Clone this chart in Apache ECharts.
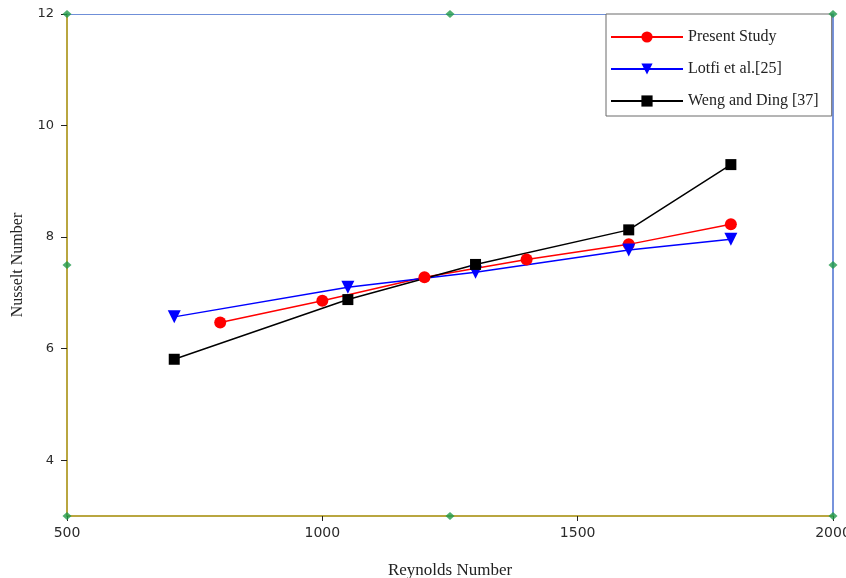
<!DOCTYPE html>
<html>
<head>
<meta charset="utf-8">
<script src="https://cdn.jsdelivr.net/npm/echarts@6/dist/echarts.min.js"></script>
<style>
html,body{margin:0;padding:0;background:#fff;}
#chart{width:846px;height:578px;}
</style>
</head>
<body>
<div id="chart"></div>
<script>
var presentRe = [800, 1000, 1200, 1400, 1600, 1800];
var presentNu = [6.47, 6.86, 7.28, 7.60, 7.87, 8.23];
var lotfiRe = [710, 1050, 1300, 1600, 1800];
var lotfiNu = [6.57, 7.10, 7.37, 7.77, 7.96];
var wengRe = [710, 1050, 1300, 1600, 1800];
var wengNu = [5.81, 6.88, 7.51, 8.13, 9.30];
var yTicks = [4, 6, 8, 10, 12];
var handleRe = [500, 1250, 2000, 500, 2000, 500, 1250, 2000];
var handleNu = [12, 12, 12, 7.5, 7.5, 3, 3, 3];

function pairs(xs, ys) { return xs.map(function (x, i) { return [x, ys[i]]; }); }

var chart = echarts.init(document.getElementById('chart'));
chart.setOption({
  animation: false,
  backgroundColor: '#ffffff',
  grid: { left: 67, right: 13, top: 14, bottom: 62, containLabel: false, outerBoundsMode: 'none' },
  legend: {
    data: ['Present Study', 'Lotfi et al.[25]', 'Weng and Ding [37]'],
    orient: 'vertical',
    left: 606, top: 14,
    backgroundColor: '#ffffff',
    borderColor: '#6a6a6a', borderWidth: 1,
    padding: [15, 13, 7, 4],
    itemWidth: 72, itemHeight: 14, itemGap: 16,
    textStyle: { fontFamily: 'Liberation Serif', fontSize: 16, color: '#222' }
  },
  xAxis: [{
    type: 'value', min: 500, max: 2000, interval: 500,
    name: 'Reynolds Number', nameLocation: 'middle', nameGap: 46,
    nameTextStyle: { fontFamily: 'Liberation Serif', fontSize: 17, color: '#222' },
    axisLine: { show: true, lineStyle: { color: '#b9a640', width: 2 } },
    axisTick: { show: true, inside: false, length: 5, lineStyle: { color: '#222' } },
    axisLabel: { fontFamily: 'DejaVu Sans', fontSize: 14, color: '#2a2a2a', margin: 10,
      formatter: function (v) { return String(v); } },
    splitLine: { show: false }
  }, {
    type: 'value', position: 'top', min: 500, max: 2000,
    axisLine: { show: true, lineStyle: { color: '#6f8fd8', width: 1 } },
    axisTick: { show: false }, axisLabel: { show: false }, splitLine: { show: false }
  }],
  yAxis: [{
    type: 'value', min: 3, max: 12,
    name: 'Nusselt Number', nameLocation: 'middle', nameGap: 41,
    nameTextStyle: { fontFamily: 'Liberation Serif', fontSize: 16, color: '#222' },
    axisLine: { show: true, lineStyle: { color: '#b9a640', width: 2 } },
    axisTick: { show: true, inside: false, length: 6, customValues: yTicks, lineStyle: { color: '#222' } },
    axisLabel: { fontFamily: 'DejaVu Sans', fontSize: 13, color: '#2a2a2a', margin: 13, customValues: yTicks },
    splitLine: { show: false }
  }, {
    type: 'value', position: 'right', min: 3, max: 12,
    axisLine: { show: true, lineStyle: { color: '#4a6fd0', width: 1.5 } },
    axisTick: { show: false }, axisLabel: { show: false }, splitLine: { show: false }
  }],
  series: [{
    name: 'Present Study', type: 'line', data: pairs(presentRe, presentNu),
    symbol: 'circle', symbolSize: 12,
    lineStyle: { color: '#ff0000', width: 1.5 },
    itemStyle: { color: '#ff0000' }
  }, {
    name: 'Lotfi et al.[25]', type: 'line', data: pairs(lotfiRe, lotfiNu),
    symbol: 'triangle', symbolSize: 13, symbolRotate: 180,
    lineStyle: { color: '#0000ff', width: 1.5 },
    itemStyle: { color: '#0000ff' }
  }, {
    name: 'Weng and Ding [37]', type: 'line', data: pairs(wengRe, wengNu),
    symbol: 'rect', symbolSize: 11,
    lineStyle: { color: '#000000', width: 1.5 },
    itemStyle: { color: '#000000' }
  }, {
    name: 'handles', type: 'scatter', data: pairs(handleRe, handleNu),
    symbol: 'diamond', symbolSize: [9, 8], clip: false, z: 5,
    itemStyle: { color: '#1f9a4a' }, silent: true
  }]
});
</script>
</body>
</html>
